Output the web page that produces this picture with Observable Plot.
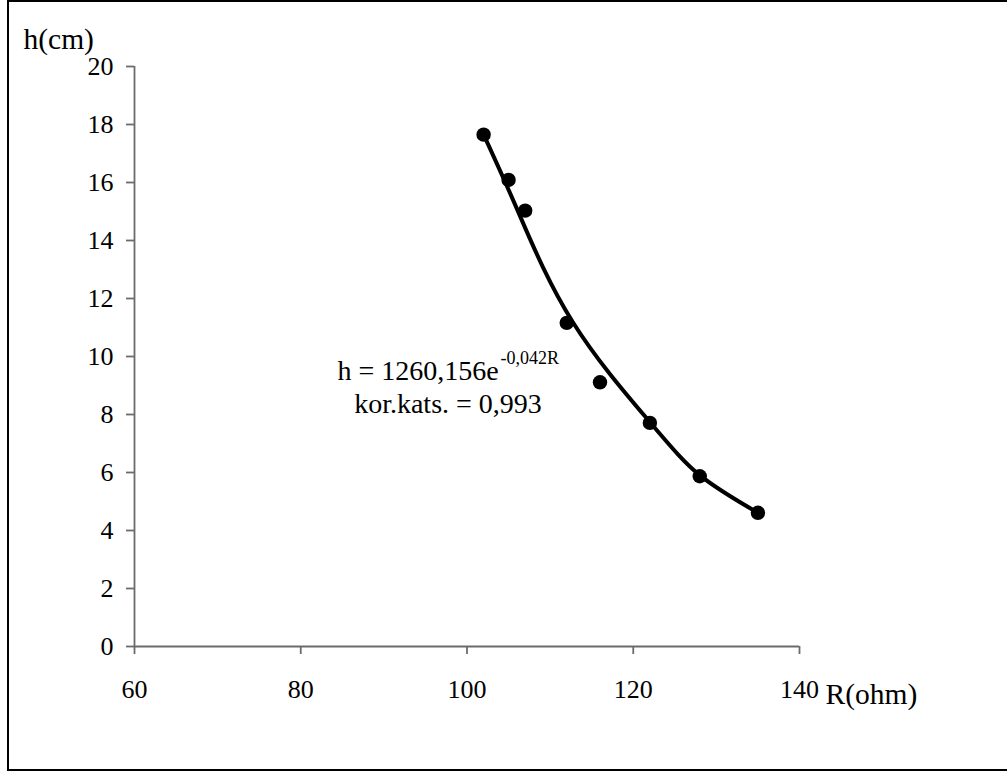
<!DOCTYPE html>
<html>
<head>
<meta charset="utf-8">
<script src="https://cdn.jsdelivr.net/npm/d3@7"></script>
<script src="https://cdn.jsdelivr.net/npm/@observablehq/plot@0.6"></script>
<style>
  html, body { margin: 0; padding: 0; background: #fff; overflow: hidden; }
  #wrap { position: relative; width: 1007px; height: 771px; }
  #border { position: absolute; left: 7px; top: 0; width: 1100px; height: 771px;
            box-sizing: border-box; border: 2px solid #000; pointer-events: none; }
  #chart { position: absolute; left: 0; top: 0; }
  #chart svg g[aria-label="x-axis tick label"] text,
  #chart svg g[aria-label="y-axis tick label"] text { font-size: 26px; font-variant: normal; }
</style>
</head>
<body>
<div id="wrap">
  <div id="chart"></div>
  <div id="border"></div>
</div>
<script>
// Measured data points
const resistance = [102, 105, 107, 112, 116, 122, 128, 135];
const heightCm = [17.65, 16.09, 15.03, 11.16, 9.11, 7.71, 5.87, 4.61];

// Trend curve
const trendR = [102, 106.1, 112.7, 121.94, 128.03, 135];
const trendH = [17.65, 15.03, 11.2, 7.76, 5.9, 4.61];

// Tick values
const xTicks = [60, 80, 100, 120, 140];
const yTicks = [0, 2, 4, 6, 8, 10, 12, 14, 16, 18, 20];

// Texts
const yLabel = "h(cm)";
const xLabel = "R(ohm)";
const eqMain = "h = 1260,156e";
const eqExp = "-0,042R";
const corrText = "kor.kats. = 0,993";

const points = resistance.map((r, i) => ({R: r, h: heightCm[i]}));
const trend = trendR.map((r, i) => ({R: r, h: trendH[i]}));

const font = "'Liberation Serif', 'Times New Roman', serif";
const axisGray = "#6b6b6b";

const chart = Plot.plot({
  width: 1007,
  height: 771,
  marginLeft: 134,
  marginRight: 208,
  marginTop: 66,
  marginBottom: 125,
  style: {fontFamily: font, fontSize: "26px", color: "#000", background: "transparent"},
  x: {domain: [60, 140]},
  y: {domain: [0, 20]},
  marks: [
    Plot.ruleX([60], {stroke: axisGray, strokeWidth: 1.8}),
    Plot.ruleY([0], {stroke: axisGray, strokeWidth: 1.8}),
    Plot.axisX({ticks: xTicks, tickSize: 8, tickPadding: 25, stroke: axisGray, strokeWidth: 1.8,
                fill: "#000", fontSize: 26, label: null, tickFormat: d => String(d)}),
    Plot.axisY({ticks: yTicks, tickSize: 8, tickPadding: 13, stroke: axisGray, strokeWidth: 1.8,
                fill: "#000", fontSize: 26, label: null, tickFormat: d => String(d)}),
    Plot.line(trend, {x: "R", y: "h", curve: "natural", stroke: "#000", strokeWidth: 4}),
    Plot.dot(points, {x: "R", y: "h", r: 7.2, fill: "#000", stroke: "none"}),
    Plot.text([yLabel], {frameAnchor: "top-left", text: d => d, textAnchor: "start", lineAnchor: "bottom",
                         dx: -111, dy: -18, fontSize: 29.5, fill: "#000"}),
    Plot.text([xLabel], {frameAnchor: "bottom-right", text: d => d, textAnchor: "start", lineAnchor: "bottom",
                         dx: 26, dy: 57, fontSize: 29.5, fill: "#000"}),
    Plot.text([eqMain], {frameAnchor: "top-left", text: d => d, textAnchor: "start", lineAnchor: "bottom",
                         dx: 203, dy: 313, fontSize: 28, fill: "#000"}),
    Plot.text([eqExp], {frameAnchor: "top-left", text: d => d, textAnchor: "start", lineAnchor: "bottom",
                        dx: 366, dy: 297, fontSize: 18, fill: "#000"}),
    Plot.text([corrText], {frameAnchor: "top-left", text: d => d, textAnchor: "middle", lineAnchor: "bottom",
                           dx: 313.5, dy: 346, fontSize: 28, fill: "#000"})
  ]
});
document.getElementById("chart").appendChild(chart);
</script>
</body>
</html>
